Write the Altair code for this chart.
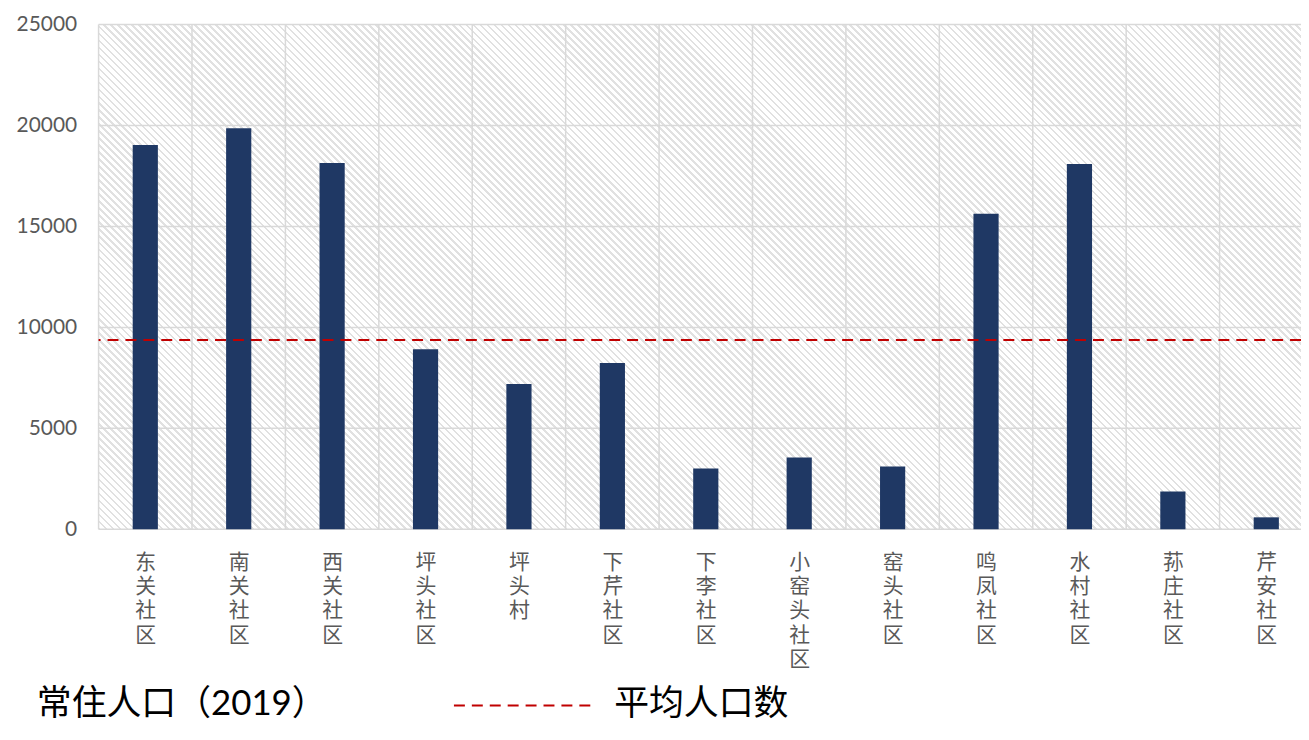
import json
import altair as alt
import pandas as pd

# ---- data ----
communities = ["东关社区", "南关社区", "西关社区", "坪头社区", "坪头村", "下芹社区", "下李社区",
               "小窑头社区", "窑头社区", "鸣凤社区", "水村社区", "荪庄社区", "芹安社区"]
population = [19030, 19870, 18140, 8920, 7200, 8230, 3010, 3550, 3110, 15630, 18090, 1870, 590]
average_population = 9370
y_ticks = [0, 5000, 10000, 15000, 20000, 25000]
legend_labels = ["常住人口（2019）", "平均人口数"]

idx = list(range(len(communities)))
df = pd.DataFrame({"社区": communities, "常住人口": population,
                   "pos": [i + 0.5 for i in idx]})

# ---- hatch background (diagonal stripes via a hard-stop linear gradient) ----
W, H = 1208, 507
period = 4.95
n = int(round((W + H) / 2 ** 0.5 / period))
duty = 0.38
stripe = "#e1e1e1"
blank = "#ffffff"
stops = []
for k in range(n):
    a = k / n
    b = (k + duty) / n
    c = (k + 1) / n
    stops += [{"offset": round(a, 6), "color": stripe},
              {"offset": round(b, 6), "color": stripe},
              {"offset": round(b, 6), "color": blank},
              {"offset": round(c, 6), "color": blank}]
r = H / W
t = (1 + r) / (1 + r * r)
hatch = {"gradient": "linear", "x1": 0, "y1": 1, "x2": t, "y2": 1 - r * t, "stops": stops}

FONT = "Lato, 'Noto Sans CJK SC', sans-serif"
CJK = "'Noto Sans CJK SC', sans-serif"
GRID = "#d9d9d9"

# each category slot is ~93.85 px; the last slot runs past the right edge as in the reference
band_step = 93.85
x_scale = alt.Scale(domain=[0, W / band_step], nice=False, zero=False, padding=0)
y_scale = alt.Scale(domain=[0, 25000], nice=False, padding=0)

names_js = json.dumps(communities, ensure_ascii=False)
label_expr = "split(" + names_js + "[floor(datum.value)], '')"

background = alt.Chart(pd.DataFrame({"bg": [0]})).mark_rect(fill=hatch, stroke=None).encode(
    x=alt.value(0), x2=alt.value(W), y=alt.value(0), y2=alt.value(H))

hgrid = alt.Chart(pd.DataFrame({"v": y_ticks})).mark_rule(color=GRID, strokeWidth=1.5).encode(
    y=alt.Y("v:Q", scale=y_scale))

vgrid = alt.Chart(pd.DataFrame({"b": idx})).mark_rule(color=GRID, strokeWidth=1.5).encode(
    x=alt.X("b:Q", scale=x_scale))

bars = alt.Chart(df).mark_bar(color="#1F3864", width=25.3).encode(
    x=alt.X("pos:Q", title=None, scale=x_scale,
            axis=alt.Axis(values=[i + 0.5 for i in idx], labelExpr=label_expr,
                          labelAngle=0, labelAlign="center", labelBaseline="top",
                          labelFont=CJK, labelFontSize=21, labelLineHeight=24.5,
                          labelColor="#595959", labelPadding=22, labelOverlap=False,
                          labelFlush=False, ticks=False, domain=False, grid=False)),
    y=alt.Y("常住人口:Q", title=None, scale=y_scale,
            axis=alt.Axis(values=y_ticks, format="d", labelFont=FONT, labelFontSize=21,
                          labelColor="#595959", labelPadding=22,
                          ticks=False, domain=False, grid=False)),
)

avg_line = alt.Chart(pd.DataFrame({"avg": [average_population]})).mark_rule(
    color="#C00000", strokeDash=[11, 7], strokeWidth=2
).encode(y=alt.Y("avg:Q", scale=y_scale))

leg_text1 = alt.Chart(pd.DataFrame({"t": [legend_labels[0]]})).mark_text(
    font=FONT, fontSize=35, color="#000000", align="left", baseline="middle"
).encode(text="t:N", x=alt.value(-62), y=alt.value(683))

leg_rule = alt.Chart(pd.DataFrame({"t": [legend_labels[1]]})).mark_rule(
    color="#C00000", strokeDash=[11, 7], strokeWidth=2
).encode(x=alt.value(357), x2=alt.value(497), y=alt.value(684))

leg_text2 = alt.Chart(pd.DataFrame({"t": [legend_labels[1]]})).mark_text(
    font=CJK, fontSize=35, color="#000000", align="left", baseline="middle"
).encode(text="t:N", x=alt.value(518), y=alt.value(683))

chart = alt.layer(background, hgrid, vgrid, bars, avg_line, leg_text1, leg_rule, leg_text2).properties(
    width=W, height=H,
    autosize=alt.AutoSizeParams(type="none"),
    padding={"left": 91, "top": 15, "right": 0, "bottom": 194},
    background="#ffffff",
).configure_view(stroke=None)

chart.save("out.html", embed_options={"renderer": "svg", "actions": False})
